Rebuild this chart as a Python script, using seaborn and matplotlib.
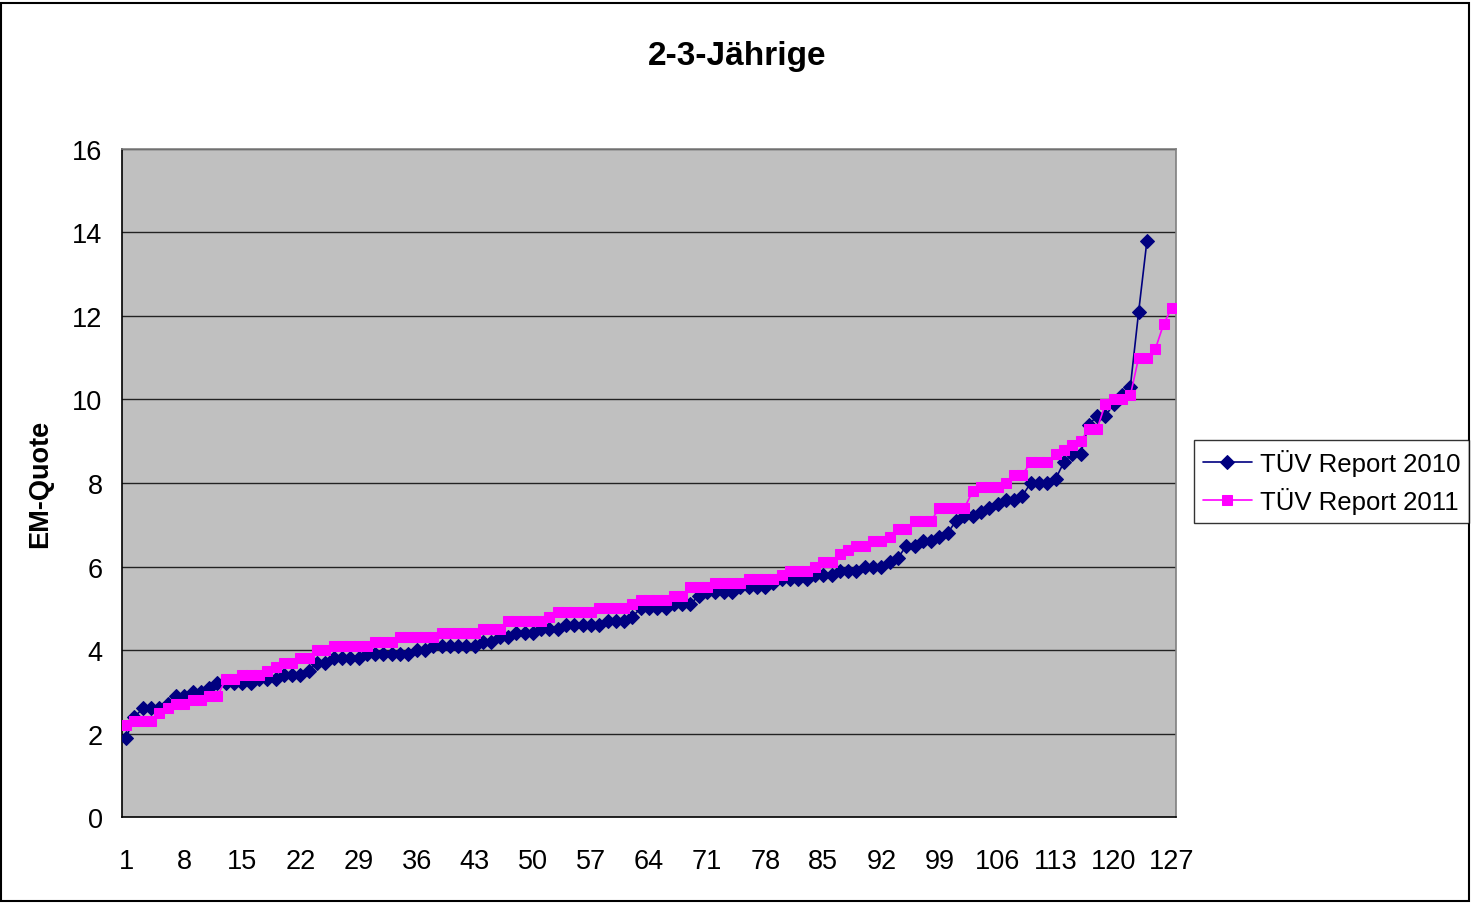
import matplotlib
matplotlib.use("Agg")
import matplotlib.pyplot as plt
import matplotlib.patches as patches
import seaborn as sns
import numpy as np

# EM-Quote values, sorted ascending
tuev_2010 = [1.9, 2.4, 2.6, 2.6, 2.6, 2.7, 2.9, 2.9, 3.0, 3.0,
             3.1, 3.2, 3.2, 3.2, 3.2, 3.2, 3.3, 3.3, 3.3, 3.4,
             3.4, 3.4, 3.5, 3.7, 3.7, 3.8, 3.8, 3.8, 3.8, 3.9,
             3.9, 3.9, 3.9, 3.9, 3.9, 4.0, 4.0, 4.1, 4.1, 4.1,
             4.1, 4.1, 4.1, 4.2, 4.2, 4.3, 4.3, 4.4, 4.4, 4.4,
             4.5, 4.5, 4.5, 4.6, 4.6, 4.6, 4.6, 4.6, 4.7, 4.7,
             4.7, 4.8, 5.0, 5.0, 5.0, 5.0, 5.1, 5.1, 5.1, 5.3,
             5.4, 5.4, 5.4, 5.4, 5.5, 5.5, 5.5, 5.5, 5.6, 5.7,
             5.7, 5.7, 5.7, 5.8, 5.8, 5.8, 5.9, 5.9, 5.9, 6.0,
             6.0, 6.0, 6.1, 6.2, 6.5, 6.5, 6.6, 6.6, 6.7, 6.8,
             7.1, 7.2, 7.2, 7.3, 7.4, 7.5, 7.6, 7.6, 7.7, 8.0,
             8.0, 8.0, 8.1, 8.5, 8.7, 8.7, 9.4, 9.6, 9.6, 9.9,
             10.1, 10.3, 12.1, 13.8]

tuev_2011 = [2.2, 2.3, 2.3, 2.3, 2.5, 2.6, 2.7, 2.7, 2.8, 2.8,
             2.9, 2.9, 3.3, 3.3, 3.4, 3.4, 3.4, 3.5, 3.6, 3.7,
             3.7, 3.8, 3.8, 4.0, 4.0, 4.1, 4.1, 4.1, 4.1, 4.1,
             4.2, 4.2, 4.2, 4.3, 4.3, 4.3, 4.3, 4.3, 4.4, 4.4,
             4.4, 4.4, 4.4, 4.5, 4.5, 4.5, 4.7, 4.7, 4.7, 4.7,
             4.7, 4.8, 4.9, 4.9, 4.9, 4.9, 4.9, 5.0, 5.0, 5.0,
             5.0, 5.1, 5.2, 5.2, 5.2, 5.2, 5.3, 5.3, 5.5, 5.5,
             5.5, 5.6, 5.6, 5.6, 5.6, 5.7, 5.7, 5.7, 5.7, 5.8,
             5.9, 5.9, 5.9, 6.0, 6.1, 6.1, 6.3, 6.4, 6.5, 6.5,
             6.6, 6.6, 6.7, 6.9, 6.9, 7.1, 7.1, 7.1, 7.4, 7.4,
             7.4, 7.4, 7.8, 7.9, 7.9, 7.9, 8.0, 8.2, 8.2, 8.5,
             8.5, 8.5, 8.7, 8.8, 8.9, 9.0, 9.3, 9.3, 9.9, 10.0,
             10.0, 10.1, 11.0, 11.0, 11.2, 11.8, 12.2]

x_2010 = np.arange(1, len(tuev_2010) + 1)
x_2011 = np.arange(1, len(tuev_2011) + 1)
n_cat = len(tuev_2011)
x_labels = list(range(1, n_cat + 1, 7))
y_ticks = [0, 2, 4, 6, 8, 10, 12, 14, 16]

sns.set_style("white")
plt.rcParams['font.family'] = ['Liberation Sans', 'DejaVu Sans']
plt.rcParams['text.color'] = 'black'
plt.rcParams['axes.labelcolor'] = 'black'
plt.rcParams['xtick.color'] = 'black'
plt.rcParams['ytick.color'] = 'black'

fig = plt.figure(figsize=(14.72, 9.04), dpi=100)
ax = fig.add_axes([0.0829, 0.0951, 0.716, 0.739])
ax.set_facecolor('#c0c0c0')

sns.lineplot(x=x_2010, y=tuev_2010, ax=ax, color='#000080', marker='D',
             markersize=7, markeredgecolor='#000080', linewidth=1.2,
             label='TÜV Report 2010', zorder=3)
sns.lineplot(x=x_2011, y=tuev_2011, ax=ax, color='#ff00ff', marker='s',
             markersize=7, markeredgecolor='#ff00ff', linewidth=1.2,
             label='TÜV Report 2011', zorder=4)

ax.set_xlim(0.5, n_cat + 0.5)
ax.set_ylim(0, 16)
ax.set_yticks(y_ticks)
ax.set_xticks(x_labels)
ax.set_xticklabels([str(v) for v in x_labels])
ax.set_xticks(np.arange(0.5, n_cat + 1, 1), minor=True)
ax.tick_params(axis='x', which='major', length=0, pad=22, labelsize=19.5)
ax.tick_params(axis='x', which='minor', length=6, width=1, color='black', direction='out')
ax.tick_params(axis='y', length=8, width=1, color='black', direction='out', pad=6, labelsize=19.5)

for y in y_ticks[1:]:
    ax.axhline(y, color='#222222', linewidth=1.0, zorder=1)

for side in ['top', 'right']:
    ax.spines[side].set_color('#808080')
    ax.spines[side].set_linewidth(1.2)
for side in ['left', 'bottom']:
    ax.spines[side].set_color('black')
    ax.spines[side].set_linewidth(1.2)

ax.set_xlabel('')
ax.set_ylabel('EM-Quote', fontsize=19.5, fontweight='bold', labelpad=14)
fig.text(0.501, 0.938, '2-3-Jährige', ha='center', va='center',
         fontsize=24, fontweight='bold')

ax.get_legend().remove()
handles, labels = ax.get_legend_handles_labels()
leg = fig.legend(handles, labels, loc='center left', bbox_to_anchor=(0.8112, 0.4663),
                 fontsize=18.5, frameon=True, fancybox=False, edgecolor='black',
                 handlelength=1.9, handletextpad=0.3, borderpad=0.35,
                 labelspacing=0.45, borderaxespad=0)
leg.get_frame().set_linewidth(1.0)

# outer chart border
fig.patches.append(patches.Rectangle((0.001, 0.002), 0.997, 0.994, transform=fig.transFigure,
                                     fill=False, edgecolor='black', linewidth=1.5))

fig.savefig('out.png', dpi=100)
